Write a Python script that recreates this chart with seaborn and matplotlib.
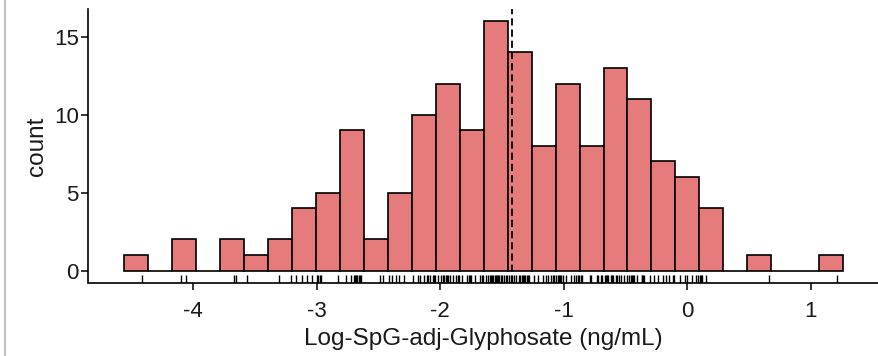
import numpy as np
import seaborn as sns
import matplotlib
matplotlib.use("Agg")
import matplotlib.pyplot as plt
from matplotlib.lines import Line2D

# Log-transformed, specific-gravity adjusted urinary glyphosate (ng/mL), one value per sample
log_glyphosate = [
    -4.41,
    -4.10, -4.06,
    -3.665, -3.655,
    -3.56,
    -3.30, -3.21,
    -3.17, -3.12, -3.08, -3.04,
    -2.995, -2.985, -2.975, -2.96, -2.83,
    -2.76, -2.72, -2.70, -2.69, -2.68, -2.67, -2.66, -2.65, -2.64,
    -2.49, -2.46,
    -2.41, -2.39, -2.36, -2.33, -2.29,
    -2.22, -2.18, -2.16, -2.13, -2.11, -2.10, -2.08, -2.06, -2.05, -2.04,
    -2.02, -1.99, -1.975, -1.965, -1.955, -1.945, -1.935, -1.92, -1.90, -1.87, -1.855, -1.848,
    -1.82, -1.78, -1.77, -1.76, -1.75, -1.72, -1.68, -1.665, -1.655,
    -1.63, -1.61, -1.60, -1.59, -1.58, -1.57, -1.56, -1.55, -1.54, -1.53, -1.52, -1.51, -1.50, -1.48, -1.47, -1.46,
    -1.445, -1.43, -1.42, -1.40, -1.39, -1.36, -1.35, -1.34, -1.33, -1.32, -1.31, -1.30, -1.29, -1.28,
    -1.24, -1.21, -1.17, -1.14, -1.13, -1.10, -1.09, -1.08,
    -1.06, -1.05, -1.04, -1.03, -1.02, -1.01, -0.98, -0.94, -0.92, -0.90, -0.885, -0.875,
    -0.86, -0.85, -0.79, -0.78, -0.73, -0.72, -0.70, -0.69,
    -0.67, -0.66, -0.65, -0.64, -0.62, -0.61, -0.60, -0.58, -0.57, -0.55, -0.54, -0.51, -0.49,
    -0.47, -0.46, -0.45, -0.44, -0.43, -0.41, -0.37, -0.365, -0.36, -0.35, -0.30,
    -0.27, -0.24, -0.20, -0.17, -0.15, -0.12, -0.11,
    -0.06, -0.02, 0.00, 0.04, 0.07, 0.09,
    0.10, 0.11, 0.12, 0.15,
    0.66,
    1.21,
]

x_ticks = [-4, -3, -2, -1, 0, 1]
y_ticks = [0, 5, 10, 15]
x_title = "Log-SpG-adj-Glyphosate (ng/mL)"
y_title = "count"
n_bins = 30

sns.set_theme(style="ticks")
plt.rcParams["font.family"] = ["Liberation Sans", "DejaVu Sans"]
text_color = "#1a1a1a"

W, H = 879, 356
fig = plt.figure(figsize=(W / 100, H / 100), dpi=100)
ax = fig.add_axes([88.5 / W, 73 / H, 1 - 88.5 / W, (283 - 8.8) / H])

vals = np.asarray(log_glyphosate)
lo, hi = vals.min(), vals.max()
# ggplot-style bins: width from range/(bins-1), edges aligned to width/2
width = (hi - lo) / (n_bins - 1)
start = width / 2 + np.floor((lo - width / 2) / width) * width
n_edges = int(np.ceil((hi - start) / width)) + 1
edges = start + width * np.arange(n_edges)

sns.histplot(x=vals, bins=edges, color="#E57B7B", edgecolor="black",
             linewidth=1.2, alpha=1, ax=ax)
sns.rugplot(x=vals, height=0.03, color="black", linewidth=1.0, ax=ax)
ax.axvline(np.median(vals), color="black", linestyle=(0, (4, 2.2)), linewidth=1.3)

counts, _ = np.histogram(vals, bins=edges)
xspan = edges[-1] - edges[0]
ax.set_xlim(edges[0] - 0.05 * xspan, edges[-1] + 0.05 * xspan)
ymax = counts.max()
ax.set_ylim(-0.05 * ymax, 1.05 * ymax)

ax.set_xticks(x_ticks)
ax.set_xticklabels([str(t) for t in x_ticks])
ax.set_yticks(y_ticks)
ax.set_yticklabels([str(t) for t in y_ticks])
ax.tick_params(axis="both", length=5, width=1.1, color="black",
               labelsize=16, labelcolor=text_color)
ax.tick_params(axis="x", pad=8)
ax.tick_params(axis="y", pad=2)

ax.set_xlabel(x_title, fontsize=17.5, color=text_color, labelpad=4)
ax.set_ylabel(y_title, fontsize=17.5, color=text_color, labelpad=4)

sns.despine(ax=ax)
for side in ("left", "bottom"):
    ax.spines[side].set_linewidth(1.2)
    ax.spines[side].set_color("black")

fig.add_artist(Line2D([5 / W, 5 / W], [0, 1], transform=fig.transFigure,
                      color="#c4c4c4", linewidth=1.6))

fig.savefig("out.png", dpi=100)
